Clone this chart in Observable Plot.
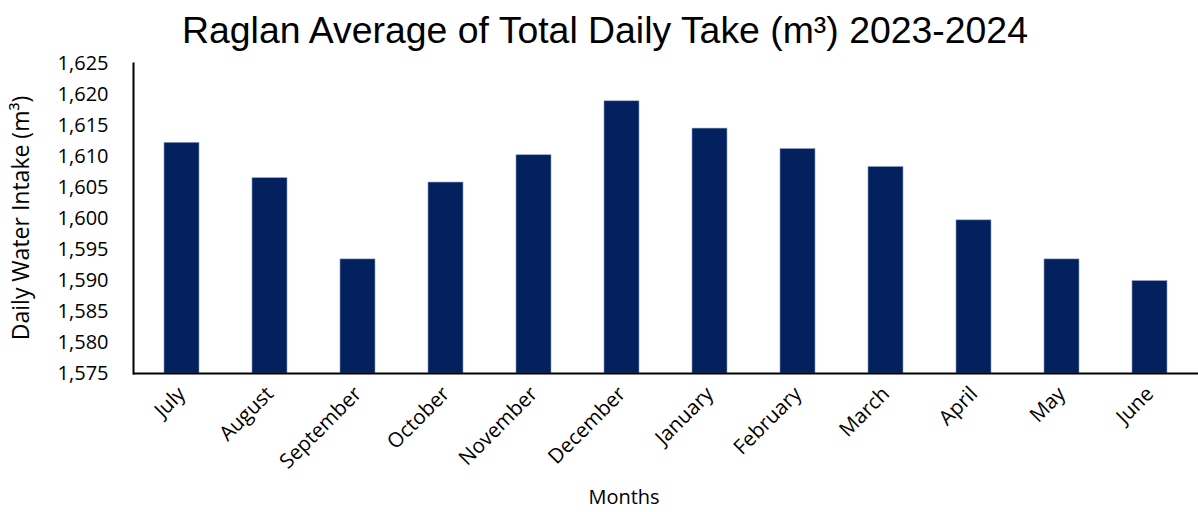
<!DOCTYPE html>
<html><head><meta charset="utf-8">
<script src="https://cdn.jsdelivr.net/npm/d3@7"></script>
<script src="https://cdn.jsdelivr.net/npm/@observablehq/plot@0.6"></script>
<style>
body{margin:0;background:#fff;width:1198px;height:512px;position:relative;overflow:hidden;font-family:"Open Sans",sans-serif}
#title{height:40px;width:1210px;text-align:center;font-family:"Liberation Sans",Arial,sans-serif;font-size:37.4px;line-height:60px;color:#000;white-space:nowrap;overflow:visible;position:relative;z-index:1}
#xlabel{position:absolute;left:0;width:1248px;top:483px;text-align:center;font-size:20px;color:#000}
svg{display:block}
</style></head>
<body>
<div id="title">Raglan Average of Total Daily Take (m³) 2023-2024</div>
<div id="chart"></div>
<div id="xlabel">Months</div>
<script>
const months = ["July","August","September","October","November","December","January","February","March","April","May","June"];
const intake = [1612.2,1606.5,1593.4,1605.8,1610.2,1618.9,1614.5,1611.2,1608.3,1599.7,1593.4,1589.9];
const yTicks = [1575,1580,1585,1590,1595,1600,1605,1610,1615,1620,1625];
const yLabel = "Daily Water Intake (m³)";

const data = months.map((m,i)=>({month:m, value:intake[i]}));
const chart = Plot.plot({
  width:1198, height:472,
  marginTop:23, marginBottom:139, marginLeft:133, marginRight:0,
  style:{fontFamily:"'Open Sans',sans-serif", fontSize:"20px", color:"#000", background:"#fff", overflow:"visible"},
  x:{domain:months, paddingInner:0.6, paddingOuter:0.3},
  y:{domain:[1575,1625]},
  marks:[
    Plot.barY(data,{x:"month", y1:1575, y2:"value", fill:"#02215E", stroke:"#8a9abb", strokeWidth:0.6}),
    Plot.axisY({ticks:yTicks, tickFormat:d3.format(","), tickSize:0, tickPadding:25, label:null, fontSize:20}),
    Plot.axisX({tickSize:0, tickRotate:-45, tickPadding:17, label:null, fontSize:20.5}),
    Plot.frame({anchor:"left", stroke:"#000", strokeWidth:2}),
    Plot.ruleY([1575],{stroke:"#000", strokeWidth:2})
  ]
});
document.getElementById("chart").appendChild(chart);
// y axis title
d3.select(chart).append("text")
  .attr("transform","translate(29,"+(218-40)+") rotate(-90)")
  .attr("text-anchor","middle")
  .attr("font-size","23px")
  .attr("fill","#000")
  .text(yLabel);
</script>
</body></html>
